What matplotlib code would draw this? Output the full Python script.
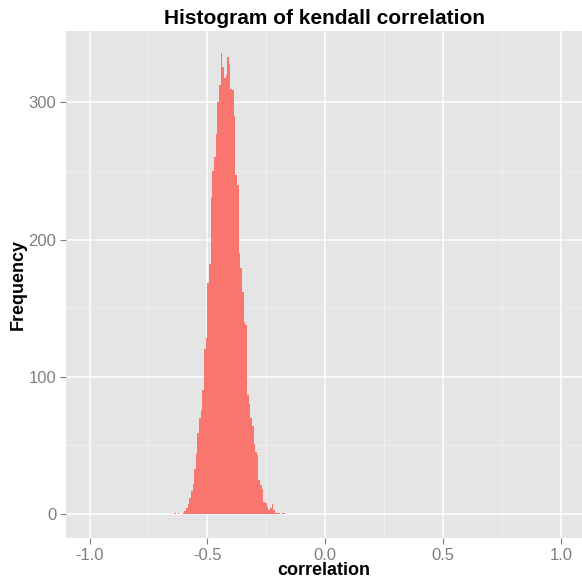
import numpy as np
import matplotlib
matplotlib.use("Agg")
from matplotlib import pyplot as plt

# histogram bins (left edge of first bin, bin width, counts)
bin_start = -0.64
bin_width = 0.007
counts = [1, 0, 1, 0, 0, 1, 2, 4, 7, 12,
          17, 22, 33, 44, 59, 70, 76, 90, 120, 128,
          168, 182, 230, 250, 260, 277, 300, 313, 336, 326,
          318, 320, 333, 328, 310, 309, 290, 247, 240, 190,
          179, 162, 140, 138, 87, 80, 70, 64, 51, 45,
          43, 25, 21, 18, 9, 8, 5, 3, 4, 7,
          3, 1, 1, 1, 0, 1, 1, 0]

xticks = [-1.0, -0.5, 0.0, 0.5, 1.0]
yticks = [0, 100, 200, 300]

plt.rcParams['font.family'] = ['Liberation Sans', 'DejaVu Sans']

fig = plt.figure(figsize=(5.82, 5.83), dpi=100)
ax = fig.add_axes([66/582, 1-538/583, 1-66/582, (538-31)/583])
ax.set_facecolor('#E5E5E5')

edges = bin_start + bin_width*np.arange(len(counts))
ax.bar(edges, counts, width=bin_width, align='edge', color='#F8766D', linewidth=0, zorder=3)

ax.set_xlim(-1.10, 1.09)
ax.set_ylim(-17.5, 352)
ax.set_xticks(xticks)
ax.set_xticklabels(['-1.0', '-0.5', '0.0', '0.5', '1.0'])
ax.set_yticks(yticks)
ax.set_xticks([-0.75, -0.25, 0.25, 0.75], minor=True)
ax.set_yticks([50, 150, 250], minor=True)

ax.grid(which='major', color='white', linewidth=1.1, zorder=0)
ax.grid(which='minor', color='#F2F2F2', linewidth=0.6, zorder=0)
ax.set_axisbelow(True)
for s in ax.spines.values():
    s.set_visible(False)

ax.tick_params(which='major', length=4, width=0.8, color='#7F7F7F',
               labelcolor='#7F7F7F', labelsize=12, pad=3)
ax.tick_params(which='minor', length=0)

ax.set_xlabel('correlation', fontsize=13, fontweight='bold')
ax.set_ylabel('Frequency', fontsize=13, fontweight='bold')
ax.xaxis.set_label_coords(0.5, -0.048)
ax.yaxis.set_label_coords(-0.076, 0.5)
fig.text(325/582, 1-19/583, 'Histogram of kendall correlation',
         ha='center', va='center', fontsize=15, fontweight='bold')

fig.savefig('out.png', dpi=100)
